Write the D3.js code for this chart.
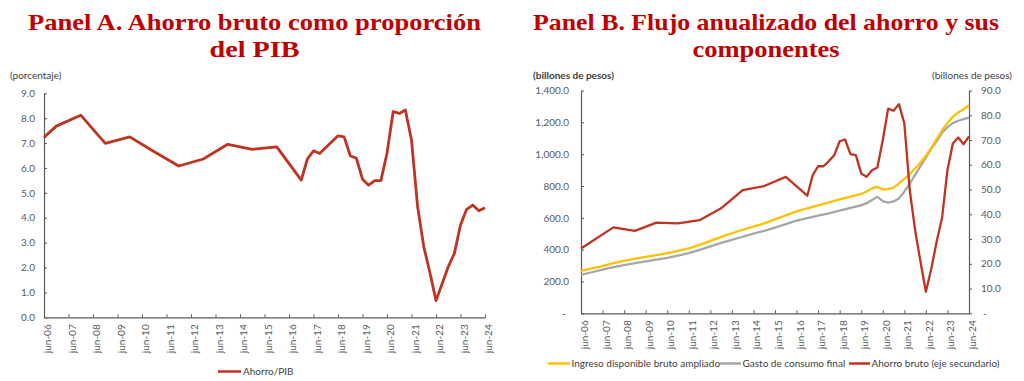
<!DOCTYPE html>
<html><head><meta charset="utf-8">
<script src="https://cdn.jsdelivr.net/npm/d3@7"></script>
<style>
body{margin:0;background:#fff}
svg{display:block}
text{font-family:Lato,"Open Sans",sans-serif}
</style>
</head><body>
<svg id="c" width="1024" height="381"></svg>
<script>
// ---------- DATA ----------
const tickLabels = ["jun-06","jun-07","jun-08","jun-09","jun-10","jun-11","jun-12","jun-13","jun-14","jun-15","jun-16","jun-17","jun-18","jun-19","jun-20","jun-21","jun-22","jun-23","jun-24"];

// Panel A: Ahorro/PIB (%)
const datesA = ["jun-06","dic-06","dic-07","dic-08","dic-09","dic-10","dic-11","dic-12","dic-13","dic-14","dic-15","dic-16",
  "mar-17","jun-17","sep-17","dic-17","mar-18","jun-18","sep-18","dic-18","mar-19","jun-19","sep-19","dic-19",
  "mar-20","jun-20","sep-20","dic-20","mar-21","jun-21","sep-21","dic-21","mar-22","jun-22","sep-22","dic-22",
  "mar-23","jun-23","sep-23","dic-23","mar-24","jun-24"];
const ahorroPIB = [7.23,7.68,8.12,6.99,7.25,6.65,6.08,6.36,6.95,6.75,6.85,5.51,
  6.36,6.69,6.58,6.82,7.05,7.29,7.25,6.49,6.39,5.55,5.31,5.49,
  5.49,6.59,8.26,8.19,8.33,7.12,4.44,2.84,1.80,0.67,1.35,2.03,
  2.57,3.71,4.34,4.51,4.28,4.40];

// Panel B: ingreso y gasto (billones de pesos, eje principal)
const datesB = ["jun-06","dic-06","jun-07","dic-07","jun-08","dic-08","jun-09","dic-09","jun-10","dic-10","jun-11","dic-11",
  "jun-12","dic-12","jun-13","dic-13","jun-14","dic-14","jun-15","dic-15","jun-16","dic-16","jun-17","dic-17",
  "jun-18","dic-18","mar-19","jun-19","sep-19","dic-19","mar-20","jun-20","sep-20","dic-20","mar-21","jun-21",
  "sep-21","dic-21","mar-22","jun-22","sep-22","dic-22","mar-23","jun-23","sep-23","dic-23","mar-24","jun-24"];
const ingresoDisp = [267,282,297,315,330,343,355,366,378,392,408,430,
  455,480,503,525,545,565,590,615,640,660,678,697,
  716,733,742,750,765,785,795,778,780,790,815,845,
  875,910,948,990,1040,1095,1150,1195,1235,1262,1282,1308];
const gastoConsumo = [241,258,275,290,303,315,326,337,348,362,378,398,
  420,442,462,481,500,518,538,560,582,598,613,628,
  645,662,670,678,692,712,732,705,695,703,722,764,
  815,870,925,980,1035,1080,1135,1170,1195,1210,1220,1230];

// Panel B: ahorro bruto (eje secundario)
const datesRed = ["jun-06","dic-07","dic-08","dic-09","dic-10","dic-11","dic-12","dic-13","dic-14","dic-15","dic-16",
  "mar-17","jun-17","sep-17","dic-17","mar-18","jun-18","sep-18","dic-18","mar-19","jun-19","sep-19","dic-19",
  "mar-20","jun-20","sep-20","dic-20","mar-21","jun-21","sep-21","dic-21","mar-22","jun-22","sep-22","dic-22",
  "mar-23","jun-23","sep-23","dic-23","mar-24","jun-24"];
const ahorroBruto = [26.2,34.7,33.3,36.6,36.3,37.6,42.4,49.8,51.4,55.1,47.5,
  55.8,59.4,59.4,61.5,63.9,69.5,70.2,64.3,63.9,56.5,55.1,57.8,
  58.9,70.0,82.7,81.8,84.5,76.7,49.8,33.6,20.8,8.7,18.0,29.0,
  38.5,57.8,68.6,71.0,68.3,71.5];

const yTicksA = [0,1,2,3,4,5,6,7,8,9];
const yTicksBLeft = [0,200,400,600,800,1000,1200,1400];
const yTicksBRight = [0,10,20,30,40,50,60,70,80,90];

// ---------- HELPERS ----------
const monthIdx = {mar:3, jun:6, sep:9, dic:12};
function toT(s){ const [m,y] = s.split("-"); return 2000 + (+y) + (monthIdx[m]-6)/12; }

const svg = d3.select("#c");
svg.append("rect").attr("width",1024).attr("height",381).attr("fill","#fff");

const TXT = "#595959", AX = "#595959";
const RED = "#BE3322", YEL = "#FFC000", GRY = "#A6A6A6", TITLE = "#C00000";

function title(lines, cx, widths){
  const g = svg.append("g");
  [30, 56.5].forEach((y,i)=>{
    g.append("text").attr("x",cx).attr("y",y).attr("text-anchor","middle")
      .attr("fill",TITLE).style("font-family",'"Liberation Serif","Times New Roman",serif')
      .style("font-weight","bold").style("font-size","24px")
      .attr("textLength",widths[i]).attr("lengthAdjust","spacingAndGlyphs")
      .text(lines[i]);
  });
}

function styleAxis(g){
  g.select(".domain").attr("stroke",AX).attr("stroke-width",1.2);
  g.selectAll(".tick line").attr("stroke",AX).attr("stroke-width",1);
  g.selectAll("text").attr("fill",TXT).style("font-size","10px").style("font-family","Lato, sans-serif");
}

function xAxis(x, y0){
  const ticks = tickLabels.map(toT);
  const g = svg.append("g").attr("transform",`translate(0,${y0})`)
    .call(d3.axisBottom(x).tickValues(ticks).tickSizeInner(-3).tickSizeOuter(0)
      .tickFormat((d,i)=>tickLabels[i]));
  styleAxis(g);
  g.selectAll(".tick text").attr("transform","rotate(-90)").attr("text-anchor","end")
    .attr("x",-7).attr("y",3).attr("dy","0.35em");
  return g;
}

// ---------- PANEL A ----------
title(["Panel A. Ahorro bruto como proporción","del PIB"], 254.5, [453, 90]);

const xA = d3.scaleLinear().domain([toT("jun-06"), toT("jun-24")]).range([44,485]);
const yA = d3.scaleLinear().domain([0,9]).range([317.3,93.3]);

xAxis(xA, 317.3);
const gyA = svg.append("g").attr("transform","translate(44,0)")
  .call(d3.axisLeft(yA).tickValues(yTicksA).tickFormat(d3.format(".1f"))
    .tickSizeInner(-3).tickSizeOuter(0).tickPadding(9));
styleAxis(gyA);

svg.append("text").attr("x",10).attr("y",79).attr("fill","#404040")
  .style("font-size","10px").text("(porcentaje)");

const lineA = d3.line().x((d,i)=>xA(toT(datesA[i]))).y(d=>yA(d));
svg.append("path").datum(ahorroPIB).attr("d",lineA).attr("fill","none")
  .attr("stroke",RED).attr("stroke-width",2.8).attr("stroke-linejoin","round");

// legend A
svg.append("line").attr("x1",218).attr("x2",241).attr("y1",371.5).attr("y2",371.5)
  .attr("stroke",RED).attr("stroke-width",2.5);
svg.append("text").attr("x",243).attr("y",371.5).attr("dy","0.35em").attr("fill","#404040")
  .style("font-size","10px").text("Ahorro/PIB");

// ---------- PANEL B ----------
title(["Panel B. Flujo anualizado del ahorro y sus","componentes"], 766, [466, 147]);

const xB = d3.scaleLinear().domain([toT("jun-06"), toT("jun-24")]).range([581,969]);
const yBL = d3.scaleLinear().domain([0,1400]).range([313.3,90.5]);
const yBR = d3.scaleLinear().domain([0,90]).range([313.3,90.5]);

xAxis(xB, 313.3);

const fmtL = d => d===0 ? "-" : d3.format(",.1f")(d);
const fmtR = d => d===0 ? "-" : d3.format(".1f")(d);

const gyL = svg.append("g").attr("transform","translate(581,0)")
  .call(d3.axisLeft(yBL).tickValues(yTicksBLeft).tickFormat(fmtL)
    .tickSizeInner(-3).tickSizeOuter(0).tickPadding(12));
styleAxis(gyL);
gyL.selectAll(".tick text").filter(d=>d===0).attr("dx",-3);

const gyR = svg.append("g").attr("transform","translate(969,0)")
  .call(d3.axisRight(yBR).tickValues(yTicksBRight).tickFormat(fmtR)
    .tickSizeInner(3).tickSizeOuter(0).tickPadding(9));
styleAxis(gyR);
gyR.selectAll(".tick text").filter(d=>d===0).attr("dx",2);

svg.append("text").attr("x",533).attr("y",79).attr("fill","#404040")
  .style("font-size","10px").style("font-weight","bold").text("(billones de pesos)");
svg.append("text").attr("x",1012).attr("y",79).attr("text-anchor","end").attr("fill","#404040")
  .style("font-size","10px").text("(billones de pesos)");

const lineL = arr => d3.line().x((d,i)=>xB(toT(datesB[i]))).y(d=>yBL(d))(arr);
svg.append("path").attr("d",lineL(gastoConsumo)).attr("fill","none")
  .attr("stroke",GRY).attr("stroke-width",2.3).attr("stroke-linejoin","round");
svg.append("path").attr("d",lineL(ingresoDisp)).attr("fill","none")
  .attr("stroke",YEL).attr("stroke-width",2.3).attr("stroke-linejoin","round");
const lineR = d3.line().x((d,i)=>xB(toT(datesRed[i]))).y(d=>yBR(d));
svg.append("path").datum(ahorroBruto).attr("d",lineR).attr("fill","none")
  .attr("stroke",RED).attr("stroke-width",2.3).attr("stroke-linejoin","round");

// legend B
const legB = [
  {x1:548,x2:570,c:YEL,t:"Ingreso disponible bruto ampliado"},
  {x1:720,x2:741,c:GRY,t:"Gasto de consumo final"},
  {x1:849,x2:870,c:RED,t:"Ahorro bruto (eje secundario)"}
];
legB.forEach(l=>{
  svg.append("line").attr("x1",l.x1).attr("x2",l.x2).attr("y1",363.5).attr("y2",363.5)
    .attr("stroke",l.c).attr("stroke-width",2.5);
  svg.append("text").attr("x",l.x2+1.5).attr("y",363.5).attr("dy","0.35em").attr("fill","#404040")
    .style("font-size","10px").text(l.t);
});
</script>
</body></html>
